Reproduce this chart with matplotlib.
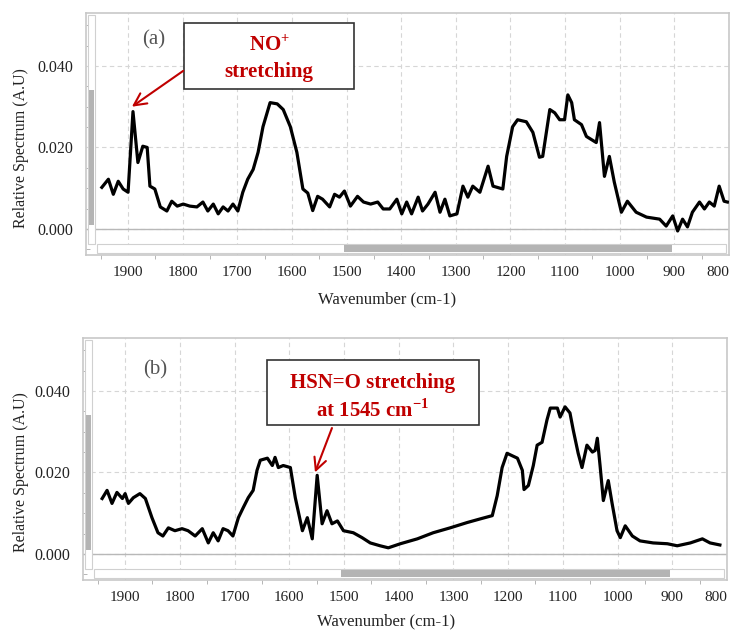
import matplotlib
matplotlib.use("Agg")
import matplotlib.pyplot as plt
import matplotlib.transforms as mtransforms
from matplotlib.patches import Rectangle
from matplotlib.ticker import MultipleLocator

plt.rcParams['font.family'] = ['Liberation Serif', 'DejaVu Serif']
plt.rcParams['mathtext.fontset'] = 'custom'
plt.rcParams['mathtext.rm'] = 'Liberation Serif:bold'
plt.rcParams['mathtext.bf'] = 'Liberation Serif:bold'

# spectrum (a)
wn_a = [1948, 1936, 1927, 1918, 1909, 1900, 1891, 1882, 1873, 1865,
        1860, 1851, 1841, 1829, 1820, 1810, 1799, 1787, 1774, 1763,
        1754, 1744, 1735, 1726, 1717, 1708, 1699, 1690, 1681, 1671,
        1662, 1653, 1640, 1627, 1616, 1603, 1591, 1580, 1571, 1562,
        1553, 1544, 1531, 1522, 1513, 1504, 1493, 1480, 1469, 1456,
        1443, 1433, 1421, 1408, 1399, 1390, 1381, 1369, 1361, 1351,
        1338, 1329, 1320, 1311, 1298, 1287, 1278, 1269, 1256, 1241,
        1232, 1214, 1207, 1196, 1187, 1171, 1159, 1147, 1141, 1128,
        1119, 1110, 1101, 1095, 1088, 1083, 1070, 1061, 1043, 1037,
        1028, 1019, 1010, 997, 986, 970, 951, 927, 915, 903,
        894, 885, 876, 867, 854, 845, 836, 827, 818, 809, 803]
spec_a = [.0102, .0122, .0085, .0117, .0098, .0090, .0288, .0163, .0203, .0200,
          .0105, .0098, .0054, .0044, .0068, .0056, .0061, .0056, .0054, .0066,
          .0044, .0061, .0037, .0054, .0044, .0061, .0044, .0090, .0122, .0146,
          .0188, .0251, .0310, .0307, .0293, .0251, .0188, .0098, .0088, .0045,
          .0080, .0073, .0054, .0085, .0078, .0093, .0056, .0080, .0066, .0061,
          .0066, .0049, .0049, .0073, .0037, .0066, .0037, .0078, .0044, .0061,
          .0090, .0041, .0073, .0032, .0037, .0105, .0078, .0105, .0090, .0154,
          .0105, .0098, .0178, .0251, .0268, .0263, .0237, .0176, .0178, .0293,
          .0285, .0268, .0268, .0329, .0310, .0268, .0256, .0227, .0212, .0261,
          .0129, .0178, .0115, .0041, .0068, .0041, .0029, .0024, .0007, .0032,
          -.0005, .0024, .0005, .0041, .0066, .0049, .0066, .0056, .0105, .0068, .0066]

# spectrum (b)
wn_b = [1942, 1933, 1924, 1915, 1905, 1900, 1894, 1885, 1873, 1863,
        1851, 1840, 1831, 1821, 1809, 1796, 1785, 1772, 1759, 1748,
        1739, 1730, 1721, 1712, 1703, 1693, 1684, 1675, 1666, 1659,
        1653, 1640, 1631, 1626, 1620, 1611, 1598, 1589, 1576, 1567,
        1558, 1549, 1540, 1531, 1522, 1512, 1501, 1483, 1467, 1452,
        1434, 1419, 1397, 1366, 1337, 1306, 1275, 1251, 1229, 1220,
        1211, 1202, 1191, 1183, 1174, 1171, 1163, 1154, 1147, 1138,
        1129, 1123, 1110, 1105, 1096, 1087, 1081, 1072, 1065, 1056,
        1046, 1041, 1037, 1032, 1026, 1017, 1010, 1001, 995, 986,
        973, 959, 935, 909, 891, 867, 845, 831, 813]
spec_b = [.0136, .0156, .0124, .0151, .0136, .0148, .0124, .0138, .0148, .0136,
          .0089, .0052, .0044, .0064, .0057, .0062, .0057, .0044, .0062, .0027,
          .0052, .0032, .0062, .0057, .0044, .0089, .0114, .0138, .0156, .0205,
          .0230, .0235, .0217, .0237, .0212, .0217, .0212, .0138, .0057, .0089,
          .0037, .0193, .0074, .0106, .0074, .0081, .0057, .0052, .0040, .0027,
          .0020, .0015, .0025, .0037, .0052, .0064, .0077, .0086, .0094, .0143,
          .0212, .0247, .0240, .0235, .0205, .0158, .0168, .0217, .0267, .0274,
          .0329, .0358, .0358, .0336, .0361, .0346, .0304, .0247, .0212, .0267,
          .0250, .0254, .0284, .0217, .0131, .0180, .0124, .0057, .0040, .0069,
          .0044, .0032, .0027, .0025, .0020, .0027, .0037, .0027, .0022]

x_ticks = [1900, 1800, 1700, 1600, 1500, 1400, 1300, 1200, 1100, 1000, 900, 800]
y_ticks = [0.000, 0.020, 0.040]
RED = '#C00000'


def draw_panel(ax, wn, spec, tag, ylab_pos, xlab_pos):
    ax.set_xlim(1977, 801)
    ax.set_ylim(-0.0064, 0.053)
    ax.set_axisbelow(True)
    ax.grid(True, ls=(0, (4, 3)), color='#d6d6d6', lw=0.8)
    ax.axhline(0, color='#b8b8b8', lw=1.0, zorder=1)

    # fake scroll bars of the spectrometer software
    ax.add_patch(Rectangle((1960, -0.0036), 13, 0.056, fc='white', ec='#d0d0d0', lw=0.8, zorder=2))
    ax.add_patch(Rectangle((1962, 0.001), 9, 0.033, fc='#b4b4b4', ec='none', zorder=3))
    ax.add_patch(Rectangle((806, -0.0059), 1150, 0.0022, fc='white', ec='#d0d0d0', lw=0.8, zorder=2))
    ax.add_patch(Rectangle((905, -0.0057), 600, 0.0018, fc='#b4b4b4', ec='none', zorder=3))

    ax.plot(wn, spec, color='black', lw=2.3, zorder=4)

    ax.set_xticks(x_ticks)
    xlabels = ax.set_xticklabels([str(v) for v in x_ticks])
    # last label sits against the right edge, as in the software screenshot
    xlabels[-1].set_ha('right')
    xlabels[-1].set_transform(xlabels[-1].get_transform() +
                              mtransforms.ScaledTranslation(4 / 72, 0, ax.figure.dpi_scale_trans))
    ax.set_yticks(y_ticks)
    ax.set_yticklabels([f"{v:.3f}" for v in y_ticks])
    ax.xaxis.set_minor_locator(MultipleLocator(50))
    ax.yaxis.set_minor_locator(MultipleLocator(0.005))
    ax.tick_params(axis='x', which='major', length=0, pad=8, labelsize=11, labelcolor='#222')
    ax.tick_params(axis='y', which='major', length=0, pad=9, labelsize=11.5, labelcolor='#222')
    ax.tick_params(axis='x', which='minor', length=3, color='#aaaaaa')
    ax.tick_params(axis='y', which='minor', length=3, direction='in', color='#aaaaaa')
    for s in ax.spines.values():
        s.set_color('#c8c8c8')
        s.set_linewidth(1.2)

    ax.set_ylabel('Relative Spectrum (A.U)', fontsize=11.5, color='#222')
    ax.yaxis.set_label_coords(*ylab_pos)
    ax.set_xlabel('Wavenumber (cm-1)', fontsize=12, color='#222')
    ax.xaxis.set_label_coords(*xlab_pos)

    ax.text(tag[1], tag[2], tag[0], fontsize=15, color='#555', ha='center', va='center')


fig = plt.figure(figsize=(7.36, 6.31), dpi=100)
ax_a = fig.add_axes([86 / 736, 1 - 255 / 631, 643 / 736, 242 / 631])
ax_b = fig.add_axes([83 / 736, 1 - 580 / 631, 644 / 736, 242 / 631])

draw_panel(ax_a, wn_a, spec_a, ('(a)', 1854, 0.0464), (-0.088, 0.44), (0.468, -0.15))
draw_panel(ax_b, wn_b, spec_b, ('(b)', 1845, 0.0452), (-0.084, 0.446), (0.47, -0.137))

# annotation (a)
ax_a.add_patch(Rectangle((1487, 0.0344), 311, 0.0161, fc='white', ec='#333333', lw=1.2, zorder=5))
ax_a.text(1642, 0.0451, r'NO$^{+}$', fontsize=15, fontweight='bold', color=RED,
          ha='center', va='center', zorder=6)
ax_a.text(1642, 0.0386, 'stretching', fontsize=15, fontweight='bold', color=RED,
          ha='center', va='center', zorder=6)
ax_a.annotate('', xy=(1893, 0.0300), xytext=(1799, 0.0388),
              arrowprops=dict(arrowstyle='->', color=RED, lw=1.5, mutation_scale=22,
                              shrinkA=0, shrinkB=0), zorder=6)

# annotation (b)
ax_b.add_patch(Rectangle((1253, 0.0316), 387, 0.0161, fc='white', ec='#333333', lw=1.2, zorder=5))
ax_b.text(1447, 0.0420, 'HSN=O stretching', fontsize=15, fontweight='bold', color=RED,
          ha='center', va='center', zorder=6)
ax_b.text(1447, 0.0353, r'at 1545 cm$^{-1}$', fontsize=15, fontweight='bold', color=RED,
          ha='center', va='center', zorder=6)
ax_b.annotate('', xy=(1553, 0.0200), xytext=(1522, 0.0309),
              arrowprops=dict(arrowstyle='->', color=RED, lw=1.5, mutation_scale=22,
                              shrinkA=0, shrinkB=0), zorder=6)

fig.savefig('out.png', dpi=100)
